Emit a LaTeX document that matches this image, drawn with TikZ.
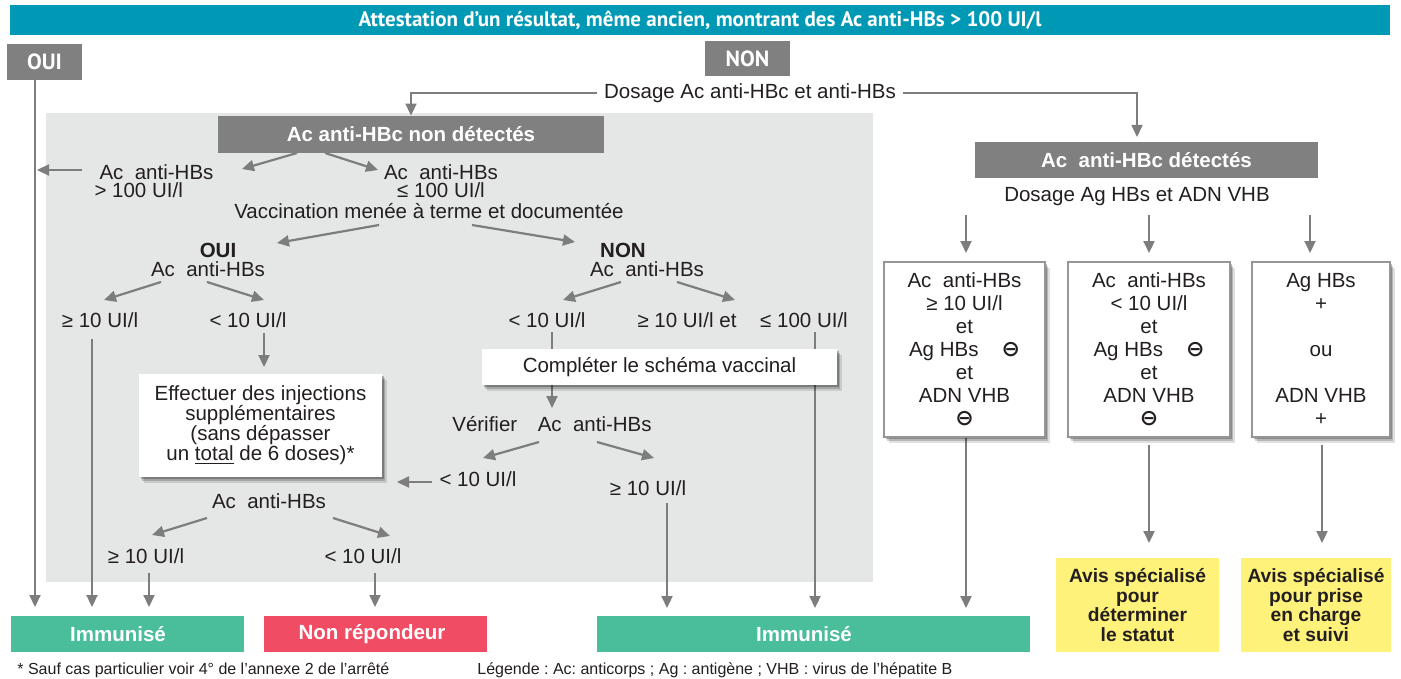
\documentclass[tikz,border=0pt]{standalone}
\usepackage{fontspec}
\setmainfont{Liberation Sans}
\newfontfamily\bannerfont{PT Sans}
\newfontfamily\djv{DejaVu Sans}
\usetikzlibrary{arrows.meta,shadows}
\definecolor{teal1}{RGB}{0,153,181}
\definecolor{boxgray}{RGB}{128,128,128}
\definecolor{panelg}{RGB}{229,230,230}
\definecolor{arrc}{RGB}{125,125,125}
\definecolor{greenimm}{RGB}{74,190,155}
\definecolor{rednr}{RGB}{240,76,99}
\definecolor{yell}{RGB}{255,242,122}
\definecolor{frameg}{RGB}{150,150,150}
\definecolor{ink}{RGB}{35,31,32}
\pgfdeclarelayer{bg}
\pgfdeclarelayer{conn}
\pgfsetlayers{bg,conn,main}
\newcommand{\omn}{{\djv\bfseries\fontsize{11}{11.5}\selectfont ⊖}}
\frenchspacing
\begin{document}
\begin{tikzpicture}[x=0.5pt,y=-0.5pt,
  txt/.style={inner sep=0pt, align=center, text=ink, font=\fontsize{10.25}{9}\selectfont},
  arr/.style={draw=arrc, line width=1.1pt, -{Triangle[length=6pt,width=5.5pt]}},
  ln/.style={draw=arrc, line width=1.1pt},
  thinarr/.style={draw=arrc, line width=0.8pt, -{Triangle[length=6pt,width=5.5pt]}, shorten <=3.5pt},
  graybox/.style={fill=boxgray, inner sep=0pt, text=white, font=\bfseries\fontsize{10.25}{12}\selectfont},
  dinbox/.style={fill=boxgray, inner sep=0pt, text=white, font=\bannerfont\bfseries\fontsize{11}{12}\selectfont},
  softshadow/.style={drop shadow={shadow xshift=2.6pt, shadow yshift=-3.2pt, opacity=0.12, fill=black},
                     drop shadow={shadow xshift=1.7pt, shadow yshift=-2.2pt, opacity=0.18, fill=black},
                     drop shadow={shadow xshift=0.8pt, shadow yshift=-1.1pt, opacity=0.25, fill=black}},
  whitebox/.style={fill=white, inner sep=0pt, align=center, text=ink, softshadow},
  resbox/.style={whitebox, draw=frameg, line width=1pt, font=\fontsize{10.25}{11.5}\selectfont},
  result/.style={inner sep=0pt, text=white, font=\bfseries\fontsize{10.25}{12}\selectfont},
  avis/.style={fill=yell, inner sep=0pt, align=center, text=ink, font=\bfseries\fontsize{9.6}{9.7}\selectfont},
  smalltxt/.style={inner sep=0pt, text=ink, font=\fontsize{8}{10}\selectfont, anchor=west}]
\useasboundingbox (0,0) rectangle (1401,679);
\begin{pgfonlayer}{bg}
\fill[white] (0,0) rectangle (1401,679);
\fill[panelg] (46,113) rectangle (873,582);
\end{pgfonlayer}

% header
\node[fill=teal1, inner sep=0pt, minimum width=690pt, minimum height=15pt, text=white, font=\bannerfont\bfseries\fontsize{10.5}{12}\selectfont] (banner) at (700,20) {Attestation d’un résultat, même ancien, montrant des Ac anti-HBs > 100 UI/l};
\node[dinbox, minimum width=37.5pt, minimum height=18pt] (oui) at (44.5,62) {OUI};
\node[dinbox, minimum width=42.5pt, minimum height=17.5pt] (non) at (747.5,58.5) {NON};
\node[txt] (dosage) at (750,93) {Dosage Ac anti-HBc et anti-HBs};

% left branch
\node[graybox, minimum width=193pt, minimum height=18.5pt] (hbcneg) at (411,134.5) {Ac anti-HBc non détectés};
\node[txt, align=left] (hbs100) at (154,181) {\hspace*{2.5pt}Ac\ \ anti-HBs\\> 100 UI/l};
\node[txt] (hbsle100) at (441,181.5) {Ac\ \ anti-HBs\\≤ 100 UI/l};
\node[txt] (vacc) at (429,211) {Vaccination menée à terme et documentée};
\node[txt, font=\fontsize{10.25}{9.5}\selectfont] (oui2) at (208,259.5) {\hspace*{10pt}\textbf{OUI}\\Ac\ \ anti-HBs};
\node[txt, font=\fontsize{10.25}{9.5}\selectfont] (non2) at (647,259.5) {\textbf{NON}\hspace*{24pt}\\Ac\ \ anti-HBs};
\node[txt] (ge10a) at (100,320) {≥ 10 UI/l};
\node[txt] (lt10a) at (248,320) {< 10 UI/l};
\node[txt] (lt10b) at (547,320) {< 10 UI/l};
\node[txt] (ge10b) at (687,320) {≥ 10 UI/l et};
\node[txt] (le100) at (804,320) {≤ 100 UI/l};
\node[whitebox, minimum width=121.5pt, minimum height=51.5pt, font=\fontsize{10.25}{10}\selectfont] (effect) at (260.5,425.5) {Effectuer des injections\\supplémentaires\\(sans dépasser\\un \underline{total} de 6 doses)*};
\node[whitebox, minimum width=177.5pt, minimum height=18pt, font=\fontsize{10.25}{12}\selectfont] (completer) at (659.5,367) {Compléter le schéma vaccinal};
\node[txt] (verif) at (552,424) {Vérifier\quad Ac\ \ anti-HBs};
\node[txt] (lt10c) at (478,479) {< 10 UI/l};
\node[txt] (ge10c) at (648,488) {≥ 10 UI/l};
\node[txt] (achbs3) at (269,501) {Ac\ \ anti-HBs};
\node[txt] (ge10d) at (146,556) {≥ 10 UI/l};
\node[txt] (lt10d) at (363,556) {< 10 UI/l};

% right branch
\node[graybox, minimum width=171.5pt, minimum height=18pt] (hbcpos) at (1146.5,160) {Ac\ \ anti-HBc détectés};
\node[txt] (dosage2) at (1137,197) {Dosage Ag HBs et ADN VHB};
\node[resbox, minimum width=80.5pt, minimum height=87.5pt] (box1) at (964.5,349.5) {Ac\ \ anti-HBs\\≥ 10 UI/l\\et\\Ag HBs\hspace{11.5pt}\omn\\et\\ADN VHB\\\omn};
\node[resbox, minimum width=81pt, minimum height=87.5pt] (box2) at (1149,349.5) {Ac\ \ anti-HBs\\< 10 UI/l\\et\\Ag HBs\hspace{11.5pt}\omn\\et\\ADN VHB\\\omn};
\node[resbox, minimum width=69pt, minimum height=87.5pt] (box3) at (1321,349.5) {Ag HBs\\+\\\mbox{}\\ou\\\mbox{}\\ADN VHB\\+};
\node[avis, minimum width=81.5pt, minimum height=47pt] (y1) at (1137.5,605) {Avis spécialisé\\pour\\déterminer\\le statut};
\node[avis, minimum width=75pt, minimum height=47pt] (y2) at (1316,605) {Avis spécialisé\\pour prise\\en charge\\et suivi};

% results
\node[result, fill=greenimm, minimum width=116.5pt, minimum height=18pt] (imm1) at (127.5,634) {Immunisé\hspace*{9.5pt}};
\node[result, fill=rednr, minimum width=111.5pt, minimum height=18pt] (nonrep) at (375.5,634) {Non répondeur\hspace*{3.5pt}};
\node[result, fill=greenimm, minimum width=216.5pt, minimum height=18pt] (imm2) at (813.5,634) {Immunisé\hspace*{9.5pt}};

% footer
\node[smalltxt] (foot) at (17,670) {* Sauf cas particulier voir 4° de l’annexe 2 de l’arrêté};
\node[smalltxt] (legende) at (477,670) {Légende : Ac: anticorps ; Ag : antigène ; VHB : virus de l’hépatite B};

\begin{pgfonlayer}{conn}
\draw[thinarr] (dosage.west) -| (hbcneg.north);
\draw[thinarr] (dosage.east) -| ([shift={(-9.5,-23)}]hbcpos.center);
\draw[arr] ([shift={(-9.5,18)}]oui.center) -- ([shift={(-92.5,-27)}]imm1.center);
\draw[arr] ([shift={(-72,-11)}]hbs100.center) -- ([shift={(-7.5,108)}]oui.center);
\draw[arr] ([shift={(-114,18.5)}]hbcneg.center) -- ([shift={(88,-12)}]hbs100.center);
\draw[arr] ([shift={(-86,18.5)}]hbcneg.center) -- ([shift={(-63,-11.5)}]hbsle100.center);
\draw[arr] ([shift={(-50,14)}]vacc.center) -- ([shift={(69,-16.5)}]oui2.center);
\draw[arr] ([shift={(43,14)}]vacc.center) -- ([shift={(-72,-17.5)}]non2.center);
\draw[arr] ([shift={(-47,22.5)}]oui2.center) -- ([shift={(4,-20)}]ge10a.center);
\draw[arr] ([shift={(-1,22.5)}]oui2.center) -- ([shift={(16,-20)}]lt10a.center);
\draw[arr] ([shift={(-26,22.5)}]non2.center) -- ([shift={(16,-20)}]lt10b.center);
\draw[arr] ([shift={(30,22.5)}]non2.center) -- ([shift={(48,-20)}]ge10b.center);
\draw[arr] ([shift={(-8,19)}]ge10a.center) -- ([shift={(-35.5,-27)}]imm1.center);
\draw[arr] ([shift={(16,13)}]lt10a.center) -- ([shift={(3.5,-58.5)}]effect.center);
\draw[ln] ([shift={(5,12)}]lt10b.center) -- ([shift={(-107.5,-18)}]completer.center);
\draw[arr] ([shift={(11,12)}]le100.center) -- ([shift={(1.5,-26)}]imm2.center);
\draw[arr] ([shift={(-107.5,18)}]completer.center) -- ([shift={(0,-16)}]verif.center);
\draw[arr] ([shift={(-13,18)}]verif.center) -- ([shift={(5,-21)}]lt10c.center);
\draw[arr] ([shift={(45,18)}]verif.center) -- ([shift={(6,-30)}]ge10c.center);
\draw[arr] ([shift={(-46,3)}]lt10c.center) -- ([shift={(136.5,56.5)}]effect.center);
\draw[arr] ([shift={(19,15)}]ge10c.center) -- ([shift={(-146.5,-26)}]imm2.center);
\draw[arr] ([shift={(-62,17)}]achbs3.center) -- ([shift={(6,-21)}]ge10d.center);
\draw[arr] ([shift={(64,17)}]achbs3.center) -- ([shift={(27,-20)}]lt10d.center);
\draw[arr] ([shift={(3,17)}]ge10d.center) -- ([shift={(21.5,-27)}]imm1.center);
\draw[arr] ([shift={(12,17)}]lt10d.center) -- ([shift={(-0.5,-27)}]nonrep.center);
\draw[arr] ([shift={(-171,18)}]dosage2.center) -- ([shift={(1.5,-96.5)}]box1.center);
\draw[arr] ([shift={(12,18)}]dosage2.center) -- ([shift={(0,-96.5)}]box2.center);
\draw[arr] ([shift={(173,18)}]dosage2.center) -- ([shift={(-11,-96.5)}]box3.center);
\draw[arr] ([shift={(1.5,87.5)}]box1.center) -- ([shift={(152.5,-26)}]imm2.center);
\draw[arr] ([shift={(0,95.5)}]box2.center) -- ([shift={(11.5,-62)}]y1.center);
\draw[arr] ([shift={(1,95.5)}]box3.center) -- ([shift={(6,-62)}]y2.center);
\end{pgfonlayer}
\end{tikzpicture}
\end{document}
